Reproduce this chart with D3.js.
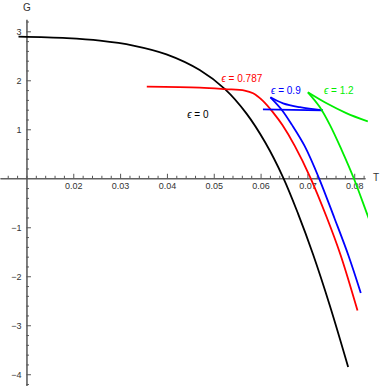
<!DOCTYPE html>
<html>
<head>
<meta charset="utf-8">
<script src="https://cdn.jsdelivr.net/npm/d3@7"></script>
<style>
  body { margin: 0; background: #fff; }
  text { font-family: "Liberation Sans", Arial, sans-serif; }
</style>
</head>
<body>
<div id="chart"></div>
<script>
// data (T, G)
var blackT = [0.0083, 0.0186, 0.0257, 0.0328, 0.0399, 0.0470, 0.0524, 0.0570, 0.0610, 0.0648, 0.0680, 0.0712, 0.0748, 0.0787];
var blackG = [2.89, 2.86, 2.81, 2.71, 2.53, 2.21, 1.82, 1.32, 0.73, 0.02, -0.72, -1.55, -2.60, -3.85];

var redT = [0.0357, 0.0470, 0.0524, 0.0566, 0.0584, 0.0605, 0.0627, 0.0647, 0.0673, 0.0706, 0.0741, 0.0771, 0.0807];
var redG = [1.87, 1.85, 1.82, 1.79, 1.735, 1.58, 1.34, 1.08, 0.66, 0.02, -0.79, -1.57, -2.70];

// eps = 0.9 has three branches
var blueSmallT = [0.0605, 0.0733];
var blueSmallG = [1.405, 1.385];
var blueMidT = [0.0733, 0.0684, 0.0648, 0.0621];
var blueMidG = [1.385, 1.45, 1.53, 1.653];
var blueLargeT = [0.0621, 0.0645, 0.0667, 0.0694, 0.0724, 0.0758, 0.0788, 0.0814];
var blueLargeG = [1.653, 1.40, 1.09, 0.66, 0.02, -0.82, -1.585, -2.34];

// eps = 1.2 two branches from the cusp
var greenUpT = [0.0701, 0.0741, 0.0783, 0.0829];
var greenUpG = [1.755, 1.53, 1.33, 1.16];
var greenDownT = [0.0701, 0.0726, 0.0748, 0.0773, 0.0799, 0.0826, 0.0840];
var greenDownG = [1.755, 1.46, 1.09, 0.58, 0.0, -0.69, -1.05];

var xMajor = [0.02, 0.03, 0.04, 0.05, 0.06, 0.07, 0.08];
var yMajor = [-4, -3, -2, -1, 1, 2, 3];

var svgWidth = 382;
var svgHeight = 386;

var svg = d3.select("#chart")
    .append("svg")
    .attr("width", svgWidth)
    .attr("height", svgHeight);

var x = d3.scaleLinear().domain([0.00435, 0.0823]).range([0, 365]);
var y = d3.scaleLinear().domain([-4.24, 3.245]).range([386, 19.3]);

// minor ticks
var xMinor = d3.range(0.006, 0.0823, 0.002).filter(function (v) {
    return xMajor.every(function (m) { return Math.abs(m - v) > 1e-6; });
});
var yMinor = d3.range(-4.2, 3.245, 0.2).filter(function (v) {
    return Math.abs(v - Math.round(v)) > 1e-6;
});

var axisColor = "#555";

// x axis
var xAxisG = svg.append("g")
    .attr("transform", `translate(0, ${y(0)})`);
xAxisG.call(d3.axisBottom(x).tickValues(xMinor).tickSize(-2.5).tickSizeOuter(0).tickFormat(""));
xAxisG.append("g").call(d3.axisBottom(x).tickValues(xMajor).tickSize(-4.5).tickSizeOuter(0)
    .tickPadding(4).tickFormat(d3.format(".2f")));

// y axis
var yAxisG = svg.append("g")
    .attr("transform", `translate(${x(0.01)}, 0)`);
yAxisG.call(d3.axisLeft(y).tickValues(yMinor).tickSize(-2.5).tickSizeOuter(0).tickFormat(""));
yAxisG.append("g").call(d3.axisLeft(y).tickValues(yMajor).tickSize(-4.5).tickSizeOuter(0)
    .tickPadding(5).tickFormat(d3.format("d")));

svg.selectAll(".domain").attr("stroke", axisColor);
svg.selectAll(".tick line").attr("stroke", axisColor);
svg.selectAll(".tick text")
    .attr("fill", "#333")
    .style("font-size", "9px")
    .style("font-family", "'Liberation Sans', Arial, sans-serif");

// axis labels
svg.append("text").attr("x", 27).attr("y", 11).attr("text-anchor", "middle")
    .attr("fill", "#333").style("font-size", "10px").text("G");
svg.append("text").attr("x", 376).attr("y", 181).attr("text-anchor", "middle")
    .attr("fill", "#333").style("font-size", "10px").text("T");

// clip
svg.append("clipPath").attr("id", "plotclip")
    .append("rect").attr("x", 0).attr("y", 0).attr("width", 368).attr("height", 386);

var line = d3.line()
    .x(function (d) { return x(d[0]); })
    .y(function (d) { return y(d[1]); })
    .curve(d3.curveCatmullRom.alpha(0.5));

var curves = [
    { T: blackT, G: blackG, color: "#000" },
    { T: redT, G: redG, color: "#ff0000" },
    { T: blueSmallT, G: blueSmallG, color: "#0000ff" },
    { T: blueMidT, G: blueMidG, color: "#0000ff" },
    { T: blueLargeT, G: blueLargeG, color: "#0000ff" },
    { T: greenUpT, G: greenUpG, color: "#00ee00" },
    { T: greenDownT, G: greenDownG, color: "#00ee00" }
];

var plot = svg.append("g").attr("clip-path", "url(#plotclip)");
curves.forEach(function (c) {
    plot.append("path")
        .datum(d3.zip(c.T, c.G))
        .attr("fill", "none")
        .attr("stroke", c.color)
        .attr("stroke-width", 1.8)
        .attr("d", line);
});

// curve labels
var labels = [
    { text: "0", T: 0.0466, G: 1.24, color: "#000" },
    { text: "0.787", T: 0.0560, G: 1.96, color: "#ff0000" },
    { text: "0.9", T: 0.0654, G: 1.72, color: "#0000ff" },
    { text: "1.2", T: 0.0767, G: 1.72, color: "#00ee00" }
];
labels.forEach(function (l) {
    var t = svg.append("text")
        .attr("x", x(l.T))
        .attr("y", y(l.G))
        .attr("text-anchor", "middle")
        .attr("fill", l.color)
        .style("font-size", "10px");
    t.append("tspan").style("font-style", "italic").text("\u03f5");
    t.append("tspan").text(" = " + l.text);
});
</script>
</body>
</html>
